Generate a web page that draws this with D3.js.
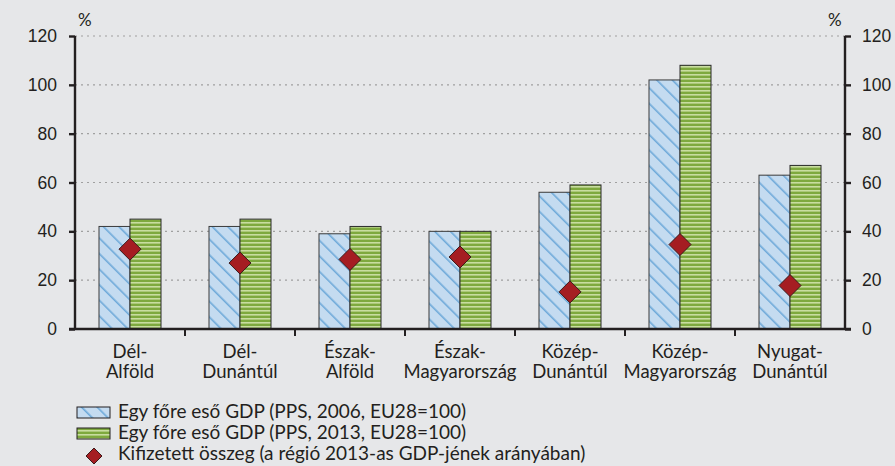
<!DOCTYPE html>
<html lang="hu">
<head>
<meta charset="UTF-8">
<title>GDP régiók</title>
<script src="https://cdnjs.cloudflare.com/ajax/libs/d3/7.8.5/d3.min.js"></script>
<style>
  body { margin: 0; background: #e6e7e9; }
  svg { display: block; font-family: Lato, "Open Sans", sans-serif; }
  .tick text { font-size: 17.5px; fill: #231f20; }
  .cat { font-size: 18.5px; fill: #231f20; }
  .legend text { font-size: 19px; fill: #231f20; }
</style>
</head>
<body>
<div id="chart"></div>
<script>
const regions = [["Dél-", "Alföld"], ["Dél-", "Dunántúl"], ["Észak-", "Alföld"], ["Észak-", "Magyarország"],
                 ["Közép-", "Dunántúl"], ["Közép-", "Magyarország"], ["Nyugat-", "Dunántúl"]];
const gdp2006 = [42, 42, 39, 40, 56, 102, 63];
const gdp2013 = [45, 45, 42, 40, 59, 108, 67];
const paid = [32.7, 27, 28.5, 29.5, 15.2, 34.6, 17.8];
const yTicks = [0, 20, 40, 60, 80, 100, 120];
const legendLabels = [
  "Egy főre eső GDP (PPS, 2006, EU28=100)",
  "Egy főre eső GDP (PPS, 2013, EU28=100)",
  "Kifizetett összeg (a régió 2013-as GDP-jének arányában)"
];

const W = 895, H = 466;
const margin = { left: 75, right: 50 };
const svg = d3.select("#chart").append("svg").attr("width", W).attr("height", H);

const defs = svg.append("defs");
const pb = defs.append("pattern").attr("id", "blueHatch").attr("patternUnits", "userSpaceOnUse")
  .attr("width", 11).attr("height", 11).attr("patternTransform", "rotate(-45)");
pb.append("rect").attr("width", 11).attr("height", 11).attr("fill", "#c4dbf0");
pb.append("rect").attr("x", 0).attr("y", 0).attr("width", 1.6).attr("height", 11).attr("fill", "#6ea9d9");

const pg = defs.append("pattern").attr("id", "greenStripe").attr("patternUnits", "userSpaceOnUse")
  .attr("width", 4).attr("height", 4);
pg.append("rect").attr("width", 4).attr("height", 4).attr("fill", "#7ea93e");
pg.append("rect").attr("y", 2).attr("width", 4).attr("height", 1.6).attr("fill", "#c8dda0");

const x0 = margin.left, x1 = W - margin.right;
const y = d3.scaleLinear().domain([0, 120]).range([329, 36]);
const x = d3.scaleBand().domain(d3.range(regions.length)).range([x0, x1]);
const barW = 31;

// grid
svg.append("g").selectAll("line").data(yTicks.filter(d => d > 0)).join("line")
  .attr("x1", x0).attr("x2", x1).attr("y1", d => y(d)).attr("y2", d => y(d))
  .attr("stroke", "#a0a0a0").attr("stroke-width", 1.2).attr("stroke-dasharray", "2,4");

// bars
const g = svg.append("g");
g.selectAll(".b06").data(gdp2006).join("rect")
  .attr("x", (d, i) => x(i) + x.bandwidth() / 2 - barW)
  .attr("y", d => y(d)).attr("width", barW).attr("height", d => y(0) - y(d))
  .attr("fill", "url(#blueHatch)").attr("stroke", "#3a3a3a").attr("stroke-width", 1);
g.selectAll(".b13").data(gdp2013).join("rect")
  .attr("x", (d, i) => x(i) + x.bandwidth() / 2)
  .attr("y", d => y(d)).attr("width", barW).attr("height", d => y(0) - y(d))
  .attr("fill", "url(#greenStripe)").attr("stroke", "#2a2a2a").attr("stroke-width", 1);

// diamonds
const dsz = 11;
g.selectAll(".dm").data(paid).join("path")
  .attr("d", `M0,${-dsz}L${dsz},0L0,${dsz}L${-dsz},0Z`)
  .attr("transform", (d, i) => `translate(${x(i) + x.bandwidth() / 2},${y(d)})`)
  .attr("fill", "#a51d22").attr("stroke", "#3a1a1a").attr("stroke-width", 1);

// axes
const left = svg.append("g").attr("transform", `translate(${x0},0)`)
  .call(d3.axisLeft(y).tickValues(yTicks).tickSize(6).tickPadding(12));
const right = svg.append("g").attr("transform", `translate(${x1},0)`)
  .call(d3.axisRight(y).tickValues(yTicks).tickSize(6).tickPadding(11));
[left, right].forEach(a => {
  a.select(".domain").attr("stroke", "#231f20").attr("stroke-width", 2.4)
    .attr("d", `M0,${y(120)}V${y(0)}`);
  a.selectAll(".tick line").attr("stroke", "#231f20").attr("stroke-width", 2.4);
});

const bottom = svg.append("g").attr("transform", `translate(0,${y(0)})`);
bottom.append("line").attr("x1", x0 - 6).attr("x2", x1 + 6)
  .attr("stroke", "#231f20").attr("stroke-width", 2.4);
bottom.selectAll(".bt").data(d3.range(1, regions.length)).join("line")
  .attr("x1", d => x(d)).attr("x2", d => x(d)).attr("y1", 0).attr("y2", 7)
  .attr("stroke", "#231f20").attr("stroke-width", 2);

// category labels, two lines each
const catG = svg.append("g");
[0, 1].forEach(line => {
  catG.selectAll(".cat" + line).data(regions).join("text")
    .attr("class", "cat cat" + line).attr("text-anchor", "middle")
    .attr("x", (d, i) => x(i) + x.bandwidth() / 2)
    .attr("y", 358 + line * 19.5)
    .text(d => d[line]);
});

svg.append("text").attr("x", 78).attr("y", 26).attr("font-size", 17).attr("fill", "#231f20").text("%");
svg.append("text").attr("x", 828).attr("y", 26).attr("font-size", 17).attr("fill", "#231f20").text("%");

// legend
const lg = svg.append("g").attr("class", "legend");
lg.append("rect").attr("x", 77).attr("y", 407).attr("width", 33).attr("height", 11)
  .attr("fill", "url(#blueHatch)").attr("stroke", "#231f20").attr("stroke-width", 1);
lg.append("rect").attr("x", 77).attr("y", 428).attr("width", 33).attr("height", 11)
  .attr("fill", "url(#greenStripe)").attr("stroke", "#231f20").attr("stroke-width", 1);
lg.append("path").attr("d", "M0,-8L8,0L0,8L-8,0Z").attr("transform", "translate(94,456)")
  .attr("fill", "#a51d22").attr("stroke", "#3a1a1a").attr("stroke-width", 1);
lg.selectAll(".lt").data(legendLabels).join("text")
  .attr("x", 118).attr("y", (d, i) => 418 + i * 21).text(d => d);
</script>
</body>
</html>
